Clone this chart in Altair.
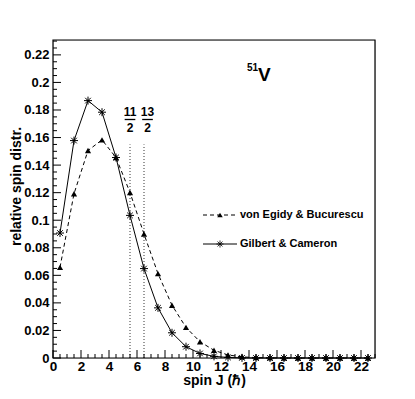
import altair as alt
import pandas as pd

# ---- data ----
J = [0.5 + i for i in range(23)]
gilbert = [0.0907, 0.1578, 0.1868, 0.1784, 0.1455, 0.1035, 0.0649, 0.0364, 0.0183,
           0.0082, 0.0033, 0.0012, 0.0004, 0.0001, 0.0, 0.0, 0.0, 0.0, 0.0, 0.0, 0.0, 0.0, 0.0]
egidy = [0.0658, 0.1192, 0.1506, 0.1583, 0.1455, 0.1201, 0.0900, 0.0612, 0.0383,
         0.0222, 0.0118, 0.0056, 0.0022, 0.0008, 0.0003, 0.0001, 0.0, 0.0, 0.0, 0.0, 0.0, 0.0, 0.0]

x_labels = [0, 2, 4, 6, 8, 10, 12, 14, 16, 18, 20, 22]
y_labels = [0, 0.02, 0.04, 0.06, 0.08, 0.10, 0.12, 0.14, 0.16, 0.18, 0.20, 0.22]
x_minor = [i * 0.5 for i in range(47)]
y_minor = [i * 0.005 for i in range(47)]

spin_marks = [5.5, 6.5]
spin_label_x = [5.5, 6.75]
spin_num = ["11", "13"]
spin_den = ["2", "2"]
spin_top = 0.155

legend_names = ["von Egidy & Bucurescu", "Gilbert & Cameron"]
nucleus_mass = "51"
nucleus_sym = "V"

# ---- layout ----
W, H = 322, 318
FONT = "Liberation Sans"
XS = alt.Scale(domain=[0, 23], nice=False, zero=False)
YS = alt.Scale(domain=[0, 0.2308], nice=False, zero=False)

df = pd.DataFrame({"J": J, "egidy": egidy, "gilbert": gilbert})

x_axis = alt.Axis(values=x_labels, ticks=False, domain=False, grid=False,
                  labelFont=FONT, labelFontWeight="bold", labelFontSize=13.5,
                  labelPadding=1, labelFlush=False, labelColor="black",
                  title="spin J (ℏ)", titleFont=FONT, titleFontSize=14,
                  titleFontWeight="bold", titlePadding=1, titleColor="black")
y_axis = alt.Axis(values=y_labels, format=".2~f", ticks=False, domain=False, grid=False,
                  labelFont=FONT, labelFontWeight="bold", labelFontSize=13,
                  labelPadding=4, labelFlush=False, labelColor="black",
                  title="relative spin distr.", titleFont=FONT, titleFontSize=14,
                  titleFontWeight="bold", titleColor="black",
                  titleX=-33, titleY=146, titleAlign="center", titleBaseline="alphabetic")


def X(field):
    return alt.X(field, scale=XS, axis=x_axis)


def Y(field):
    return alt.Y(field, scale=YS, axis=y_axis)


base = alt.Chart(df)

eg_line = base.mark_line(color="black", strokeWidth=1, strokeDash=[4, 3]).encode(
    x=X("J:Q"), y=Y("egidy:Q"))
eg_pts = base.mark_point(shape="triangle-up", filled=True, color="black", size=38, opacity=1).encode(
    x=X("J:Q"), y=Y("egidy:Q"))

star = "M-1,0L1,0M0,-1L0,1M-0.7,-0.7L0.7,0.7M-0.7,0.7L0.7,-0.7"
gc_line = base.mark_line(color="black", strokeWidth=1).encode(
    x=X("J:Q"), y=Y("gilbert:Q"))
gc_pts = base.mark_point(shape=star, filled=False, color="black", size=64, strokeWidth=1, opacity=1).encode(
    x=X("J:Q"), y=Y("gilbert:Q"))

sp = pd.DataFrame({"x": spin_marks, "lx": spin_label_x, "num": spin_num, "den": spin_den,
                   "top": [spin_top] * 2})
sp_base = alt.Chart(sp)
sp_rules = sp_base.mark_rule(color="black", strokeWidth=0.8, strokeDash=[1, 2]).transform_calculate(
    zero="0").encode(x=X("x:Q"), y=Y("zero:Q"), y2="top:Q")
sp_num = sp_base.mark_text(font=FONT, fontWeight="bold", fontSize=12, color="black", baseline="alphabetic").encode(
    x=X("lx:Q"), y=alt.value(76), text="num:N")
sp_den = sp_base.mark_text(font=FONT, fontWeight="bold", fontSize=12, color="black", baseline="alphabetic").encode(
    x=X("lx:Q"), y=alt.value(92), text="den:N")
sp_bar = sp_base.mark_rule(color="black", strokeWidth=1.3).transform_calculate(
    xa="datum.lx - 0.38", xb="datum.lx + 0.38").encode(
    x=X("xa:Q"), x2="xb:Q", y=alt.value(79.5))

# inward ticks
xt = pd.DataFrame({"t": x_minor})
xt["major"] = [(v % 2 == 0) for v in x_minor]
x_ticks_major = alt.Chart(xt).transform_filter("datum.major").mark_rule(color="black", strokeWidth=1).encode(
    x=X("t:Q"), y=alt.value(H), y2=alt.value(H - 8))
x_ticks_minor = alt.Chart(xt).transform_filter("!datum.major").mark_rule(color="black", strokeWidth=1).encode(
    x=X("t:Q"), y=alt.value(H), y2=alt.value(H - 4))
yt = pd.DataFrame({"t": y_minor})
yt["major"] = [(i % 4 == 0) for i in range(len(y_minor))]
y_ticks_major = alt.Chart(yt).transform_filter("datum.major").mark_rule(color="black", strokeWidth=1).encode(
    y=Y("t:Q"), x=alt.value(0), x2=alt.value(8))
y_ticks_minor = alt.Chart(yt).transform_filter("!datum.major").mark_rule(color="black", strokeWidth=1).encode(
    y=Y("t:Q"), x=alt.value(0), x2=alt.value(4))

# frame
fr = pd.DataFrame({"k": [0]})
frame = alt.Chart(fr).mark_rect(fill=None, stroke="black", strokeWidth=1.2).encode(
    x=alt.value(0), x2=alt.value(W), y=alt.value(0), y2=alt.value(H))

# legend (manual)
lg = pd.DataFrame({"name": legend_names})
lg1 = alt.Chart(lg).transform_filter(alt.datum.name == legend_names[0])
lg2 = alt.Chart(lg).transform_filter(alt.datum.name == legend_names[1])
leg_eg_line = lg1.mark_rule(color="black", strokeWidth=1, strokeDash=[4, 3]).encode(
    x=alt.value(150), x2=alt.value(184), y=alt.value(175))
leg_eg_pt = lg1.mark_point(shape="triangle-up", filled=True, color="black", size=30, opacity=1).encode(
    x=alt.value(167), y=alt.value(175))
leg_eg_txt = lg1.mark_text(font=FONT, fontWeight="bold", fontSize=11, color="black", align="left", baseline="middle").encode(
    x=alt.value(187), y=alt.value(175), text="name:N")
leg_gc_line = lg2.mark_rule(color="black", strokeWidth=1).encode(
    x=alt.value(150), x2=alt.value(184), y=alt.value(204))
leg_gc_pt = lg2.mark_point(shape=star, filled=False, color="black", size=50, strokeWidth=0.8, opacity=1).encode(
    x=alt.value(167), y=alt.value(204))
leg_gc_txt = lg2.mark_text(font=FONT, fontWeight="bold", fontSize=11, color="black", align="left", baseline="middle").encode(
    x=alt.value(187), y=alt.value(204), text="name:N")

nuc = pd.DataFrame({"m": [nucleus_mass], "s": [nucleus_sym]})
nuc_m = alt.Chart(nuc).mark_text(font=FONT, fontWeight="bold", fontSize=10, color="black", align="left", baseline="alphabetic").encode(
    x=alt.value(194), y=alt.value(31), text="m:N")
nuc_s = alt.Chart(nuc).mark_text(font=FONT, fontWeight="bold", fontSize=19, color="black", align="left", baseline="alphabetic").encode(
    x=alt.value(205), y=alt.value(41), text="s:N")

chart = alt.layer(
    eg_line, eg_pts, gc_line, gc_pts,
    sp_rules, sp_num, sp_den, sp_bar,
    x_ticks_major, x_ticks_minor, y_ticks_major, y_ticks_minor, frame,
    leg_eg_line, leg_eg_pt, leg_eg_txt, leg_gc_line, leg_gc_pt, leg_gc_txt,
    nuc_m, nuc_s,
).properties(
    width=W, height=H,
    autosize=alt.AutoSizeParams(type="none"),
    padding={"left": 45, "top": 32, "right": 30, "bottom": 33},
).configure_view(stroke=None).configure(background="white")

chart.save("out.html", embed_options={"renderer": "svg", "actions": False})
